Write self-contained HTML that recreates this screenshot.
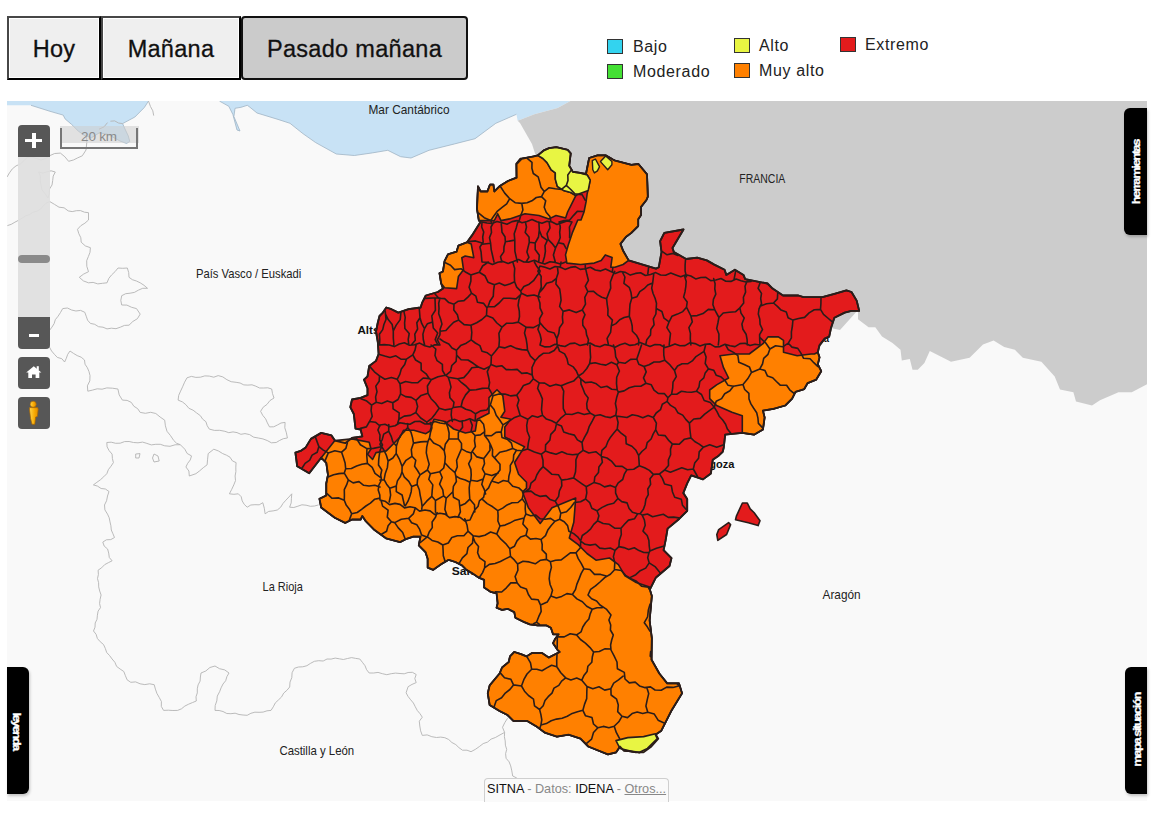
<!DOCTYPE html>
<html><head><meta charset="utf-8">
<style>
*{box-sizing:border-box}
html,body{margin:0;padding:0;background:#fff;width:1166px;height:813px;overflow:hidden;font-family:"Liberation Sans",sans-serif}
.btn{position:absolute;top:16px;height:64px;background:#efefef;border-style:solid;border-width:2px;border-color:#474747 #000 #000 #474747;box-shadow:inset 1px 1px 0 #fff,inset -1px -1px 0 #fff;font-size:23.5px;letter-spacing:0.3px;-webkit-text-stroke:0.3px #111;color:#111;display:flex;align-items:center;justify-content:center;padding-top:3px}
#b1{left:7px;width:94px}
#b2{left:101px;width:140px}
#b3{left:241px;width:227px;background:#cbcbcb;border:2px solid #111;border-radius:4px;box-shadow:none}
.lg{position:absolute;font-size:16px;color:#222;white-space:nowrap;letter-spacing:0.65px;margin-top:1px}
.sw{position:absolute;width:16px;height:15px;border:1px solid #333}
#map{position:absolute;left:7px;top:101px;width:1140px;height:700px;overflow:hidden;background:#f9f9f9}
#map svg{position:absolute;left:-7px;top:-101px}
.ctl{position:absolute;left:18px;width:32px;background:#575757;color:#fff;text-align:center}
.tab{position:absolute;background:#000;color:#fff;font-weight:bold;box-shadow:1px 2px 3px rgba(0,0,0,0.22)}
.tabt{position:absolute;font-size:13px;line-height:13px;font-weight:bold;color:#fff;white-space:nowrap;letter-spacing:-1px;transform-origin:50% 50%;-webkit-text-stroke:0.35px #fff}
#attr{position:absolute;left:484px;top:778px;width:185px;height:24px;background:#fafafa;border:1px solid #cfcfcf;border-bottom:none;border-radius:4px 4px 0 0;font-family:"Liberation Sans",sans-serif;font-size:12.7px;padding:3px 0 0 2px;white-space:nowrap;color:#111}
#attr .g{color:#888}
#attr u{color:#888}
</style></head><body>
<div class="btn" id="b1">Hoy</div>
<div class="btn" id="b2">Mañana</div>
<div class="btn" id="b3">Pasado mañana</div>

<div class="sw" style="left:607px;top:39px;background:#33d3ef"></div><div class="lg" style="left:633px;top:37px">Bajo</div>
<div class="sw" style="left:607px;top:64px;background:#44e034"></div><div class="lg" style="left:633px;top:62px">Moderado</div>
<div class="sw" style="left:734px;top:38px;background:#e8f542"></div><div class="lg" style="left:759px;top:36px">Alto</div>
<div class="sw" style="left:734px;top:63px;background:#ff8000"></div><div class="lg" style="left:759px;top:61px">Muy alto</div>
<div class="sw" style="left:840px;top:37px;background:#e31b1c"></div><div class="lg" style="left:865px;top:35px">Extremo</div>

<div id="map">
<svg width="1166" height="813" viewBox="0 0 1166 813">
<rect x="0" y="0" width="1166" height="813" fill="#f9f9f9"/>
<polygon points="7.0,101.0 570.4,101.0 557.6,107.9 534.4,114.3 517.7,120.7 516.4,114.3 495.8,123.3 475.0,138.7 454.6,143.9 429.0,150.3 411.0,158.0 400.6,156.7 387.8,150.3 372.3,152.9 354.3,155.5 336.3,154.0 315.7,142.6 302.9,133.6 290.0,123.3 278.0,119.4 257.0,113.0 250.0,107.3 247.3,105.3 241.0,107.3 235.0,108.3 233.9,116.6 240.0,131.0 237.0,130.0 232.9,114.5 228.8,106.3 219.5,101.1 148.5,101.1 144.3,107.5 134.9,117.0 122.6,123.6 125.0,129.0 128.3,136.0 129.8,141.5 126.5,143.5 120.0,141.0 107.0,134.0 99.0,133.0 91.5,137.7 84.9,135.8 78.3,131.1 71.7,124.5 65.1,118.9 63.2,115.1 50.0,111.3 31.0,105.3 7.0,105.3" fill="#c8e2f5" stroke="none" stroke-width="0" stroke-linejoin="round" />
<polyline points="516.4,114.3 495.8,123.3 475.0,138.7 454.6,143.9 429.0,150.3 411.0,158.0 400.6,156.7 387.8,150.3 372.3,152.9 354.3,155.5 336.3,154.0 315.7,142.6 302.9,133.6 290.0,123.3 278.0,119.4 257.0,113.0 250.0,107.3 247.3,105.3 241.0,107.3 235.0,108.3 233.9,116.6 240.0,131.0 237.0,130.0 232.9,114.5 228.8,106.3 219.5,101.1" fill="none" stroke="#9fb4c4" stroke-width="0.8" stroke-linejoin="round" />
<polyline points="148.5,101.1 144.3,107.5 134.9,117.0 122.6,123.6 125.0,129.0 128.3,136.0 129.8,141.5 126.5,143.5 120.0,141.0 107.0,134.0 99.0,133.0 91.5,137.7 84.9,135.8 78.3,131.1 71.7,124.5 65.1,118.9 63.2,115.1 50.0,111.3 31.0,105.3" fill="none" stroke="#9fb4c4" stroke-width="0.8" stroke-linejoin="round" />
<polygon points="570.4,101.0 1147.0,101.0 1147.0,384.3 1131.8,392.3 1118.5,392.3 1100.0,400.3 1092.0,405.6 1076.0,401.6 1073.4,392.3 1060.0,389.6 1054.7,376.4 1041.4,361.7 1022.8,357.7 1014.9,349.8 1004.2,347.1 993.6,340.5 983.0,344.4 969.6,357.7 951.0,361.7 929.8,351.1 924.4,363.0 917.8,369.7 912.5,369.7 909.8,359.0 901.8,360.4 900.5,349.8 892.5,343.1 882.0,336.5 875.3,327.2 868.6,327.2 858.0,319.2 858.0,309.9 840.0,330.0 700.0,300.0 620.0,290.0 575.0,230.0 545.0,175.0 535.7,155.5 532.0,144.0 520.0,123.0 517.7,120.7 534.4,114.3 557.6,107.9" fill="#cccccc" stroke="none" stroke-width="0" stroke-linejoin="round" />
<polyline points="86.5,137.0 86.8,142.5 86.0,150.0 82.3,155.8 77.8,157.8 73.4,160.0 68.6,161.3 64.9,156.8 60.4,153.1 54.7,153.5 49.4,155.8 45.6,158.6 41.0,160.0 36.6,158.6 32.1,157.1 27.4,157.2 24.0,160.6 20.5,163.9 16.0,165.9 12.3,168.9 9.5,172.8 7.0,177.0" fill="none" stroke="#b3b3b3" stroke-width="0.9" stroke-linejoin="round" />
<polyline points="148.5,101.1 150.5,106.6 152.8,110.8 153.7,115.6" fill="none" stroke="#b3b3b3" stroke-width="0.9" stroke-linejoin="round" />
<polyline points="38.7,172.0 42.9,173.1 47.0,171.8 51.1,170.8 55.3,172.0 53.2,176.1 52.7,180.6 52.0,185.0 49.5,189.0 49.3,193.6 48.0,198.0 45.2,193.8 42.0,190.0 41.1,185.5 40.3,181.0 40.4,176.3 38.7,172.0" fill="none" stroke="#b3b3b3" stroke-width="0.9" stroke-linejoin="round" />
<polyline points="7.4,225.6 11.3,224.3 14.9,222.2 18.5,220.3 22.1,218.2 25.6,215.9 29.5,214.6 32.8,212.3 36.9,211.2 40.4,209.2 43.1,206.1 46.0,203.2 49.8,201.6 54.4,204.3 59.0,207.2 64.1,207.8 68.2,210.9 72.2,211.6 76.4,210.7 80.5,210.6 84.5,212.2 88.5,212.7 88.5,220.0 84.9,223.2 80.8,225.7 77.5,229.3 78.8,233.6 80.8,237.7 81.2,242.2 85.3,245.9 90.4,247.7 90.0,252.3 88.4,256.5 86.7,260.7 86.8,266.3 88.5,271.7 83.6,274.1 79.3,277.3 83.4,280.9 88.5,282.8 93.1,282.4 97.8,283.9 102.4,283.3 107.0,282.8 108.8,278.4 111.7,274.8 115.1,271.6 118.0,268.0 122.7,268.3 127.3,268.0 128.7,272.5 129.0,277.3 132.4,279.7 136.4,281.0 140.2,282.8 144.0,285.3 147.5,288.3 142.7,288.3 138.3,290.2 134.4,292.4 130.1,293.2 125.7,293.7 121.7,295.7 120.8,300.4 121.7,305.0 126.9,305.1 131.6,307.3 136.5,308.6 140.2,314.1 137.4,318.7 132.8,321.5 129.0,325.2 124.5,325.4 120.3,327.2 116.0,328.7 111.4,328.2 107.0,328.9 103.0,327.2 98.5,326.7 94.7,324.3 90.4,323.4 87.6,320.2 86.2,316.2 84.8,312.3 80.6,310.4 75.9,311.0 71.6,310.0 67.4,308.0 62.7,308.6 60.5,312.5 58.1,316.2 55.3,319.7 54.1,323.7 51.9,327.2 49.4,330.5 48.0,334.4 46.0,341.8 49.0,346.3 51.6,351.0 54.4,354.3 57.3,357.4 61.8,358.7 64.6,362.0 66.3,358.3 67.7,354.4 70.0,351.0 73.5,353.4 77.2,355.6 81.2,357.2 84.5,360.0 85.0,364.2 87.4,367.8 89.0,371.6 90.0,375.6 89.8,380.9 87.4,385.8 87.8,391.2 92.5,390.1 97.2,388.8 102.1,389.2 106.8,387.9 112.4,388.2 117.9,389.0 119.2,394.9 122.4,400.1 127.1,400.4 131.3,402.4 133.8,406.2 137.7,408.7 140.2,412.4 145.4,413.3 150.7,412.3 155.8,413.5 160.1,417.0 164.7,420.2 165.4,425.8 167.0,431.3 170.5,435.6 173.6,440.3 176.5,443.2 180.3,444.7 184.8,449.2 187.2,453.5 191.5,455.9 190.3,459.9 187.7,463.3 185.9,467.0 188.9,471.0 189.3,476.0 195.9,473.7 199.7,470.8 203.3,467.7 207.1,464.8 207.6,459.2 208.2,453.6 213.8,449.2 218.5,451.0 222.7,453.6 226.5,455.2 230.0,457.2 232.4,460.9 236.1,462.6 235.8,467.1 235.9,471.6 235.1,476.0 235.5,480.6 233.8,484.9 231.7,489.4 229.4,493.8 233.9,494.3 238.3,493.8 241.2,496.7 242.2,500.9 244.2,504.3 247.2,507.2 250.8,505.0 254.9,504.7 259.2,504.8 262.8,502.7 264.3,508.2 265.1,513.8 268.7,511.4 273.1,510.9 277.3,510.0 280.7,507.2 283.0,503.4 285.9,500.2 288.9,497.0 291.8,493.8 291.4,498.3 291.2,502.9 289.6,507.2 293.8,507.5 297.9,506.2 301.9,504.8 306.1,505.2 310.4,506.3 314.5,506.0 318.6,504.9" fill="none" stroke="#b3b3b3" stroke-width="0.9" stroke-linejoin="round" />
<polyline points="99.0,129.2 104.0,126.9 107.5,122.6" fill="none" stroke="#b3b3b3" stroke-width="0.9" stroke-linejoin="round" />
<polyline points="110.4,121.2 114.7,120.9 118.5,123.0 122.6,123.6" fill="none" stroke="#b3b3b3" stroke-width="0.9" stroke-linejoin="round" />
<polyline points="187.0,377.8 191.4,376.4 195.9,377.4 200.4,377.2 204.8,375.9 209.3,376.1 213.8,377.2 218.2,375.6 222.8,376.9 226.9,379.7 231.2,381.7 236.1,382.3 240.1,383.0 243.8,384.9 247.9,385.1 252.0,384.8 255.8,386.2 259.6,388.0 263.7,388.0 267.8,387.8 271.7,389.0 272.5,393.6 274.0,398.0 269.9,400.6 267.0,404.4 263.2,407.2 260.6,411.3 262.7,415.3 265.6,418.8 267.4,422.9 269.5,426.9 273.7,426.8 277.4,425.0 281.0,423.0 285.1,422.4 284.8,427.8 286.4,432.8 287.4,438.0 283.3,438.7 279.7,440.4 276.2,442.5 271.4,442.8 267.2,440.5 262.9,438.9 258.4,438.0 253.7,437.2 249.6,434.6 245.0,433.6 240.9,434.3 237.0,432.6 233.0,431.9 228.8,432.7 224.9,431.3 219.7,430.3 214.4,430.4 209.3,429.1 207.2,425.7 205.9,421.7 202.6,419.1 200.4,415.7 196.7,413.0 193.1,410.2 188.9,408.3 185.9,404.7 182.4,401.9 178.1,400.1 178.7,395.4 180.6,391.1 182.6,386.8 184.6,382.2 187.0,377.8" fill="none" stroke="#b3b3b3" stroke-width="0.9" stroke-linejoin="round" />
<polyline points="180.3,444.7 175.1,444.8 170.0,446.3 164.7,445.8 160.3,444.3 155.8,444.3 151.3,444.9 146.9,443.4 142.6,442.1 138.0,442.8 133.5,442.5 129.1,441.5 124.6,441.6 120.2,443.2 115.7,443.3 111.2,442.2 106.8,442.5 107.1,446.9 109.1,450.6 112.1,454.1 112.4,458.5 113.4,462.6 111.0,466.2 108.4,469.6 106.8,473.7 103.7,476.8 100.5,479.7 96.9,482.3 93.4,484.9 97.5,486.1 101.1,488.5 105.4,489.0 109.0,491.5 107.5,496.0 106.6,500.7 104.5,505.0 104.9,509.9 107.5,514.1 109.2,517.8 110.0,521.9 110.9,525.8 111.3,530.0 112.9,533.7 114.5,537.5 110.8,539.6 106.4,539.8 102.8,542.1 104.2,546.1 107.6,549.0 108.7,553.1 109.3,557.5 112.1,560.8 108.3,562.7 104.6,564.7 101.6,567.8 98.1,570.2 98.4,574.4 97.5,578.6 98.6,582.7 98.7,586.9 99.7,591.0 101.1,595.0 100.1,599.3 99.6,603.5 100.5,607.6 98.1,611.1 97.4,615.2 97.0,619.3 95.2,623.0 95.0,627.2 93.5,631.0 96.1,634.3 97.4,638.5 100.2,641.7 103.5,644.5 105.3,648.4 106.7,652.5 109.6,655.6 112.1,659.0 114.9,662.3 116.6,666.4 120.1,669.0 123.8,671.5 125.4,675.7 127.1,679.8 130.8,682.3 135.6,681.9 140.1,683.8 144.8,684.6 149.6,683.8 154.2,684.7 155.4,689.1 156.9,693.4 159.2,697.4 161.4,701.5 161.3,706.4 163.6,710.4 168.3,710.2 172.9,710.5 177.6,710.4 181.5,708.8 184.8,706.1 188.6,704.2 192.4,702.6 196.3,701.0 196.0,696.8 197.3,692.9 197.3,688.8 198.1,684.9 200.1,681.1 200.4,677.0 201.0,673.0 205.8,671.0 209.9,667.5 215.0,666.0 219.5,668.7 224.7,669.9 229.0,673.0 226.9,676.6 225.7,680.7 223.0,684.0 221.1,687.8 219.6,691.7 217.3,696.1 216.8,700.9 215.2,705.5 215.0,710.4 219.1,710.5 223.0,711.5 226.8,713.5 230.9,713.7 235.1,713.2 239.0,714.5 243.0,715.0 247.2,715.3 250.9,713.3 254.9,712.2 259.0,712.3 263.1,712.1 267.0,710.8 271.0,710.4 273.3,706.8 275.3,702.9 278.5,699.9 281.6,696.9 283.7,693.1 286.9,690.3 289.7,687.0 290.0,682.1 291.8,677.6 292.1,672.7 294.4,668.3 298.4,667.0 302.8,666.8 306.9,665.7 310.6,663.3 314.4,661.3 318.7,660.7 323.2,661.0 327.0,659.0 331.1,659.1 335.2,658.1 339.3,658.8 343.4,659.5 347.5,658.5 351.6,657.6 355.7,658.4 359.8,659.0 362.4,662.3 365.0,665.7 366.6,669.7 369.2,673.0 373.6,673.0 378.0,672.4 382.4,673.7 386.8,674.7 391.2,673.7 395.6,673.1 400.0,673.5 404.2,673.8 408.1,672.5 412.4,672.3 416.2,674.5 414.8,678.5 416.2,682.6 412.0,684.4 408.1,686.7 406.1,692.8 408.1,696.5 410.7,699.8 413.4,703.0 415.3,706.8 417.3,710.5 420.0,713.7 422.3,717.2 419.3,721.2 419.8,726.0 420.6,730.8 422.3,735.4 427.2,734.9 431.8,736.7 436.5,737.5 440.7,737.1 444.8,737.7 448.7,739.5 451.9,742.5 455.8,744.6 458.9,747.6 462.5,750.2 467.0,750.2 471.0,751.7 475.3,749.4 479.3,746.6 483.2,743.6 487.5,742.1 491.1,739.1 495.4,737.5 500.0,734.9 504.6,732.4 502.5,727.3 504.8,722.6 507.6,718.2" fill="none" stroke="#b3b3b3" stroke-width="0.9" stroke-linejoin="round" />
<polyline points="504.6,732.4 504.4,736.7 505.2,740.9 505.4,745.2 506.7,749.4 505.6,753.7 506.1,758.3 509.1,761.8 510.7,765.9 511.8,770.9 512.7,776.0 516.8,778.0" fill="none" stroke="#b3b3b3" stroke-width="0.9" stroke-linejoin="round" />
<polyline points="135.7,454.0 140.0,453.6 139.0,458.0 135.7,458.0 135.7,454.0" fill="none" stroke="#b3b3b3" stroke-width="0.9" stroke-linejoin="round" />
<polyline points="154.0,454.0 158.0,456.0 159.2,461.0 154.0,462.0 152.5,458.0 154.0,454.0" fill="none" stroke="#b3b3b3" stroke-width="0.9" stroke-linejoin="round" />
<text x="368.5" y="114" font-size="12.2" font-weight="normal" fill="#222" text-anchor="start" textLength="81" lengthAdjust="spacingAndGlyphs" font-family="Liberation Sans, sans-serif">Mar Cantábrico</text>
<text x="739.3" y="182.7" font-size="12" font-weight="normal" fill="#222" text-anchor="start" textLength="46" lengthAdjust="spacingAndGlyphs" font-family="Liberation Sans, sans-serif">FRANCIA</text>
<text x="196" y="278" font-size="12.2" font-weight="normal" fill="#222" text-anchor="start" textLength="105.3" lengthAdjust="spacingAndGlyphs" font-family="Liberation Sans, sans-serif">País Vasco / Euskadi</text>
<text x="357.4" y="334" font-size="11.5" font-weight="bold" fill="#111" text-anchor="start" textLength="42" lengthAdjust="spacingAndGlyphs" font-family="Liberation Sans, sans-serif">Altsasu</text>
<text x="262.6" y="591.3" font-size="12.2" font-weight="normal" fill="#222" text-anchor="start" textLength="40.2" lengthAdjust="spacingAndGlyphs" font-family="Liberation Sans, sans-serif">La Rioja</text>
<text x="279.4" y="754.8" font-size="12.2" font-weight="normal" fill="#222" text-anchor="start" textLength="74.8" lengthAdjust="spacingAndGlyphs" font-family="Liberation Sans, sans-serif">Castilla y León</text>
<text x="822.5" y="599" font-size="12.2" font-weight="normal" fill="#222" text-anchor="start" textLength="38.1" lengthAdjust="spacingAndGlyphs" font-family="Liberation Sans, sans-serif">Aragón</text>
<text x="686" y="467.5" font-size="11.5" font-weight="bold" fill="#111" text-anchor="start" textLength="48.5" lengthAdjust="spacingAndGlyphs" font-family="Liberation Sans, sans-serif">Zaragoza</text>
<text x="451.8" y="574.8" font-size="11.5" font-weight="bold" fill="#111" text-anchor="start" textLength="22" lengthAdjust="spacingAndGlyphs" font-family="Liberation Sans, sans-serif">San</text>
<text x="808" y="342.3" font-size="11.5" font-weight="bold" fill="#111" text-anchor="start" textLength="21" lengthAdjust="spacingAndGlyphs" font-family="Liberation Sans, sans-serif">Jaca</text>
<polygon points="478.0,186.3 480.6,191.5 487.4,191.5 490.0,184.6 493.4,184.6 494.3,191.5 499.5,186.3 508.0,181.0 516.6,177.7 516.6,164.0 521.7,158.9 533.8,156.3 537.8,155.4 544.0,150.3 549.1,148.2 556.3,147.2 567.6,149.8 570.7,153.4 569.2,165.7 572.8,171.9 580.0,172.9 586.0,174.0 589.2,158.0 597.4,155.4 605.7,155.4 612.9,159.5 615.0,160.6 631.5,164.9 638.4,164.0 647.0,174.3 647.8,196.6 646.4,200.0 641.0,206.9 641.0,215.1 638.2,219.2 638.2,226.0 631.3,232.9 625.8,237.0 620.4,243.9 623.1,250.8 628.6,260.4 656.0,268.6 658.8,267.2 661.5,252.1 660.1,241.2 664.3,232.9 683.5,229.5 672.5,248.0 673.9,252.1 686.2,259.0 697.2,257.6 706.8,260.4 714.3,264.6 724.6,269.7 726.3,274.9 734.9,269.7 743.5,274.9 745.2,279.2 767.5,283.5 772.6,288.6 783.0,295.5 798.4,295.5 803.5,297.2 822.4,297.2 834.4,293.8 846.4,290.3 851.5,292.0 856.7,300.6 859.2,310.9 851.5,310.9 844.7,312.6 834.4,317.8 831.0,328.0 829.2,336.6 824.7,338.6 819.5,345.4 817.8,352.3 819.5,357.4 817.8,364.3 821.2,371.2 816.1,379.7 807.5,383.2 804.1,389.2 795.5,391.8 792.1,398.6 785.2,405.5 773.2,408.9 762.9,410.6 764.6,417.5 762.9,429.5 754.3,434.6 742.3,432.9 725.2,434.6 724.6,440.0 723.7,447.9 722.7,451.8 718.7,455.7 712.8,459.7 710.9,473.5 703.0,479.4 691.2,475.4 687.2,483.3 683.3,493.1 687.2,499.0 687.2,510.9 679.4,518.7 667.6,528.6 665.6,540.4 663.6,550.2 671.5,558.1 669.5,566.0 655.7,577.8 649.8,589.6 651.8,595.9 649.6,620.4 651.8,638.2 651.5,659.7 659.3,673.5 667.2,683.4 679.0,683.4 682.0,693.3 671.2,711.0 661.3,730.7 655.4,734.7 657.4,738.6 647.5,748.5 639.6,752.4 623.8,750.5 620.0,746.5 616.0,752.4 608.0,754.4 588.3,746.5 580.5,738.6 568.6,734.7 556.8,736.6 545.0,732.7 537.0,726.8 527.2,720.9 513.4,720.9 507.5,715.0 499.6,711.0 489.7,705.0 487.8,693.3 489.7,685.4 499.6,673.5 502.1,667.5 508.8,662.0 510.0,656.4 514.3,652.0 521.0,654.2 526.5,656.4 532.0,653.1 542.0,653.1 548.7,657.6 559.7,652.0 557.5,649.8 553.1,643.2 555.3,638.7 558.6,634.3 553.1,634.3 550.9,627.7 546.4,625.4 537.6,625.4 529.8,624.3 524.3,622.1 515.4,617.7 514.3,612.1 507.7,608.8 502.1,609.9 496.6,607.7 497.7,603.3 496.6,593.3 490.8,591.9 484.2,587.5 484.2,579.8 478.6,577.6 472.0,573.1 466.4,569.8 462.0,565.4 455.4,562.0 448.7,559.8 441.0,564.3 433.2,569.8 427.7,567.6 427.7,558.7 425.5,552.1 418.8,545.4 420.5,536.6 413.3,536.6 406.6,538.8 400.0,542.1 386.3,538.4 374.3,529.8 365.8,521.2 362.3,516.0 360.6,519.5 352.0,519.5 345.2,522.9 334.9,517.8 321.2,507.5 319.5,498.9 326.3,495.5 326.3,483.5 328.0,474.9 326.3,462.9 321.2,457.7 309.2,473.2 297.2,466.3 295.4,452.6 300.6,450.9 305.7,447.4 310.9,438.9 321.2,432.9 331.5,435.4 334.9,440.6 345.2,443.2 352.0,438.0 362.3,436.3 360.6,429.5 355.5,428.6 353.8,414.0 350.3,407.2 352.0,399.5 360.6,397.8 367.5,395.2 367.5,388.3 364.0,379.7 367.5,376.3 369.2,366.0 376.0,360.9 378.6,354.0 377.8,342.0 376.0,331.5 377.7,323.0 379.5,316.0 382.9,312.6 386.3,307.5 391.5,309.2 398.3,312.6 408.6,309.2 420.6,307.5 422.3,302.3 425.8,295.5 437.8,292.0 443.0,288.6 441.2,283.5 439.5,273.2 443.0,271.5 444.6,261.2 448.0,254.3 456.6,251.7 458.4,245.7 467.0,242.3 472.0,235.4 480.6,221.7 478.9,220.6 477.0,208.6" fill="#e31b1c" stroke="#2a1d1a" stroke-width="1.8" stroke-linejoin="round" />
<polygon points="742.4,503.0 747.3,503.0 750.2,508.9 754.2,512.8 760.0,520.7 758.1,525.6 748.3,522.7 735.5,519.7 736.5,515.8" fill="#e31b1c" stroke="#2a1d1a" stroke-width="1.6" stroke-linejoin="round" />
<polygon points="728.6,522.7 730.6,524.6 726.6,534.5 717.8,540.4 716.8,534.5 718.7,529.6" fill="#e31b1c" stroke="#2a1d1a" stroke-width="1.6" stroke-linejoin="round" />
<polygon points="321.2,457.7 334.9,440.6 352.0,438.9 369.2,442.3 371.0,449.0 367.5,454.3 372.6,459.5 376.0,452.6 386.3,450.9 393.2,444.0 400.0,437.1 403.5,430.3 413.8,430.3 425.8,433.7 430.0,431.0 434.0,419.2 443.8,421.2 453.6,429.0 465.4,433.0 475.3,431.0 477.2,419.2 489.0,413.3 489.0,397.6 497.0,389.7 502.8,395.6 504.8,411.3 500.9,417.2 510.7,419.2 504.8,427.0 504.8,436.9 512.7,440.9 524.5,446.8 514.6,462.5 518.6,474.3 526.5,482.2 526.5,488.1 522.5,492.0 528.4,507.8 540.2,523.5 552.0,507.8 575.7,498.0 573.8,522.3 569.3,538.0 578.2,544.6 587.0,553.5 596.0,560.2 609.5,558.0 618.4,564.7 625.0,575.8 636.2,582.5 649.6,587.0 649.8,589.6 651.8,595.9 649.6,620.4 651.8,638.2 651.5,659.7 659.3,673.5 667.2,683.4 679.0,683.4 682.0,693.3 671.2,711.0 661.3,730.7 655.4,734.7 657.4,738.6 647.5,748.5 639.6,752.4 623.8,750.5 620.0,746.5 616.0,752.4 608.0,754.4 588.3,746.5 580.5,738.6 568.6,734.7 556.8,736.6 545.0,732.7 537.0,726.8 527.2,720.9 513.4,720.9 507.5,715.0 499.6,711.0 489.7,705.0 487.8,693.3 489.7,685.4 499.6,673.5 502.1,667.5 508.8,662.0 510.0,656.4 514.3,652.0 521.0,654.2 526.5,656.4 532.0,653.1 542.0,653.1 548.7,657.6 559.7,652.0 557.5,649.8 553.1,643.2 555.3,638.7 558.6,634.3 553.1,634.3 550.9,627.7 546.4,625.4 537.6,625.4 529.8,624.3 524.3,622.1 515.4,617.7 514.3,612.1 507.7,608.8 502.1,609.9 496.6,607.7 497.7,603.3 496.6,593.3 490.8,591.9 484.2,587.5 484.2,579.8 478.6,577.6 472.0,573.1 466.4,569.8 462.0,565.4 455.4,562.0 448.7,559.8 441.0,564.3 433.2,569.8 427.7,567.6 427.7,558.7 425.5,552.1 418.8,545.4 420.5,536.6 413.3,536.6 406.6,538.8 400.0,542.1 386.3,538.4 374.3,529.8 365.8,521.2 362.3,516.0 360.6,519.5 352.0,519.5 345.2,522.9 334.9,517.8 321.2,507.5 319.5,498.9 326.3,495.5 326.3,483.5 328.0,474.9 326.3,462.9" fill="#ff8000" stroke="#2a1d1a" stroke-width="1.6" stroke-linejoin="round" />
<polygon points="478.0,186.3 480.6,191.5 487.4,191.5 490.0,184.6 493.4,184.6 494.3,191.5 499.5,186.3 508.0,181.0 516.6,177.7 516.2,163.7 520.3,158.5 533.7,156.5 537.8,155.4 542.9,158.5 547.0,162.6 551.2,169.8 555.3,172.9 555.3,179.1 557.3,186.3 563.5,190.4 570.7,192.5 575.8,195.6 570.7,205.8 567.6,212.0 565.6,218.0 563.0,217.2 556.0,215.5 549.0,218.9 539.0,215.5 525.0,213.8 509.7,218.9 501.0,220.6 497.7,213.8 494.3,220.6 478.9,220.6 477.0,208.6" fill="#ff8000" stroke="#2a1d1a" stroke-width="1.6" stroke-linejoin="round" />
<polygon points="586.0,174.0 589.2,158.0 597.4,155.4 605.7,155.4 612.9,159.5 615.0,160.6 631.5,164.9 638.4,164.0 647.0,174.3 647.8,196.6 646.4,200.0 641.0,206.9 641.0,215.1 638.2,219.2 638.2,226.0 631.3,232.9 625.8,237.0 620.4,243.9 623.1,250.8 628.6,260.4 623.1,264.5 614.9,267.2 610.8,267.2 612.1,257.6 605.3,254.9 601.2,260.4 594.3,263.1 580.6,264.5 566.9,263.1 565.5,254.9 568.2,245.3 572.3,232.9 577.8,220.0 581.0,220.0 584.0,212.0 586.1,201.7 587.2,193.5 590.2,180.1 587.2,175.0" fill="#ff8000" stroke="#2a1d1a" stroke-width="1.6" stroke-linejoin="round" />
<polygon points="456.6,251.7 448.0,254.3 444.6,261.2 443.0,271.5 439.5,273.2 441.2,283.5 444.6,287.8 456.6,288.6 458.4,276.6 463.5,269.7 461.8,257.7 465.2,256.0 473.8,257.7 471.2,244.0 467.0,242.3 458.4,245.7" fill="#ff8000" stroke="#2a1d1a" stroke-width="1.6" stroke-linejoin="round" />
<polygon points="814.4,354.0 817.8,352.3 819.5,357.4 817.8,364.3 821.2,371.2 816.1,379.7 807.5,383.2 804.1,389.2 795.5,391.8 792.1,398.6 785.2,405.5 773.2,408.9 762.9,410.6 764.6,417.5 762.9,429.5 754.3,434.6 742.3,432.9 742.3,415.8 732.0,412.3 716.6,405.5 709.7,398.6 709.7,390.0 716.6,384.9 728.6,378.0 723.5,367.7 720.0,355.7 733.8,354.0 749.2,354.0 763.0,343.7 768.0,336.9 778.4,336.9 783.5,340.3 783.5,352.3 797.2,355.7 811.0,354.0" fill="#ff8000" stroke="#2a1d1a" stroke-width="1.6" stroke-linejoin="round" />
<polygon points="537.8,155.4 544.0,150.3 549.1,148.2 556.3,147.2 567.6,149.8 570.7,153.4 569.2,165.7 572.8,171.9 580.0,172.9 587.2,175.0 590.2,180.1 588.2,190.4 580.0,193.5 575.8,195.6 570.7,192.5 563.5,190.4 557.3,186.3 555.3,179.1 555.3,172.9 551.2,169.8 547.0,162.6 542.9,158.5" fill="#e8f543" stroke="#2a1d1a" stroke-width="1.6" stroke-linejoin="round" />
<polygon points="592.3,160.6 595.4,159.0 599.5,166.7 597.4,170.9 594.4,172.9 592.8,169.8" fill="#e8f543" stroke="#2a1d1a" stroke-width="1.4" stroke-linejoin="round" />
<polygon points="600.5,161.6 605.7,156.0 611.9,161.6 611.9,164.7 607.7,169.8" fill="#e8f543" stroke="#2a1d1a" stroke-width="1.4" stroke-linejoin="round" />
<polygon points="616.0,740.6 620.0,748.5 635.7,752.4 643.6,752.4 651.5,746.5 658.4,738.6 655.4,733.7 643.6,736.6 627.8,737.6" fill="#e8f543" stroke="#2a1d1a" stroke-width="1.6" stroke-linejoin="round" />
<path d="M527.5,158.7 L532.0,162.3 L531.9,168.3 L533.3,173.5 L538.2,176.9 L539.7,182.1 L541.0,187.3 L544.2,191.6 M570.9,170.6 L567.8,175.0 L568.0,180.5 L566.3,185.4 M544.2,191.6 L549.1,187.7 L555.3,188.7 L561.5,189.4 L566.3,185.4 M500.6,186.8 L504.7,193.1 L509.7,198.7 M544.2,191.6 L541.5,196.6 M541.5,196.6 L536.3,197.5 L531.9,200.8 L527.1,202.8 L521.8,203.4 M509.7,198.7 L515.1,202.7 L521.8,203.4 M566.3,185.4 L570.8,189.5 L574.9,193.9 L582.1,194.6 L585.3,200.3 M541.5,196.6 L545.7,200.8 L544.2,207.2 L546.2,212.2 L549.9,216.6 L551.0,222.0 M583.1,211.5 L577.3,211.4 L573.4,215.6 L569.7,220.1 L564.1,220.5 L559.0,222.0 M318.9,446.6 L323.3,450.1 L328.3,452.9 M318.9,446.6 L317.2,452.2 L312.1,455.1 L309.7,460.1 L305.1,463.4 L302.1,468.0 M328.3,452.9 L325.2,460.4 M494.2,706.6 L496.3,700.6 L501.6,697.7 L505.3,693.1 L509.9,689.5 L513.5,684.9 M500.7,673.4 L504.5,677.7 L510.9,679.3 L513.5,684.9 M677.9,255.5 L673.0,253.4 L667.1,254.8 L662.4,251.6 M513.5,684.9 L521.5,686.0 M521.5,686.0 L523.8,679.7 L527.0,674.0 L531.7,669.3 M531.7,669.3 L530.5,662.8 L527.2,657.1 M777.7,293.2 L777.4,298.9 L773.5,303.0 M821.0,298.2 L820.9,303.8 L820.5,309.4 M820.5,309.4 L814.3,309.8 L809.1,312.9 L804.6,317.4 L798.6,318.5 L792.9,320.1 M773.5,303.0 L777.4,306.4 L781.1,310.1 L786.3,312.0 L788.1,317.7 L792.9,320.1 M792.9,320.1 L792.4,326.0 L791.4,331.8 L791.4,337.8 L788.3,343.2 M820.5,309.4 L823.5,314.3 L827.8,318.0 L832.0,321.7 M788.3,343.2 L792.0,347.1 L797.8,348.4 L800.9,353.1 L803.6,358.3 L810.1,358.8 L813.8,362.7 L817.7,366.4 M327.3,493.9 L332.1,498.3 L338.7,497.9 L344.3,500.3 M349.5,519.6 L351.7,513.8 M344.3,500.3 L346.2,505.1 L349.4,509.2 L351.7,513.8 M664.1,722.9 L658.1,720.2 L654.3,714.1 L647.8,712.2 M647.8,712.2 L645.9,706.1 L647.2,699.9 L648.7,693.6 L646.8,687.5 M521.5,686.0 L524.5,691.2 L528.5,695.5 L533.5,699.2 L534.5,705.9 L539.6,709.5 M540.0,727.8 L540.9,725.1 M539.6,709.5 L540.9,714.6 L541.8,719.8 L540.9,725.1 M649.2,562.9 L655.4,566.9 L660.1,572.7 M649.2,562.9 L645.7,568.1 L640.2,570.7 L635.8,574.7 L630.4,577.4 M539.6,709.5 L543.2,705.8 L545.0,700.6 L548.2,696.7 L552.0,693.1 L554.0,688.1 L558.8,685.4 L561.6,681.1 L565.7,677.9 M531.7,669.3 L536.8,669.3 L542.0,670.7 L546.8,667.9 L551.6,665.2 L556.8,666.7 M556.8,666.7 L560.8,672.7 L565.7,677.9 M406.4,359.2 L404.7,364.5 L401.3,369.0 L399.8,374.4 L397.2,379.3 M406.4,359.2 L400.9,359.1 L395.9,355.8 L390.0,357.5 L384.7,356.1 L379.5,354.5 M370.1,366.9 L374.4,371.8 L379.5,375.9 M379.5,375.9 L384.9,379.3 L391.4,377.5 L397.2,379.3 M773.5,303.0 L766.5,303.7 L760.0,306.3 M735.6,271.3 L733.9,280.1 M788.3,343.2 L782.7,346.8 L775.6,345.7 L769.9,349.0 M760.0,337.7 L765.6,342.8 L769.9,349.0 M793.7,393.2 L789.7,389.8 L786.6,385.2 L780.2,385.1 L776.4,381.5 L772.7,377.7 L767.5,376.1 L765.0,370.6 L759.8,368.9 M769.9,349.0 L768.0,354.3 L763.7,358.4 L762.5,364.0 L759.8,368.9 M381.9,534.0 L386.6,531.2 L388.1,525.8 L391.4,521.8 M351.7,513.8 L357.2,512.5 L361.6,509.3 L365.9,506.0 L370.4,503.1 L374.5,499.3 L380.0,498.1 M380.0,498.1 L380.0,498.1 M381.0,500.2 L382.6,506.1 L388.1,510.1 L387.3,517.1 L391.4,521.8 M420.4,542.5 L426.9,537.1 M405.0,538.5 L402.7,532.5 L398.3,527.9 L394.7,522.6 M426.9,537.1 L421.6,534.9 L419.7,529.4 L416.9,524.8 L411.6,522.7 L408.6,518.3 M408.6,518.3 L401.3,519.2 L394.7,522.6 M391.4,521.8 L394.7,522.6 M610.9,688.7 L611.1,695.0 L616.6,699.2 L618.3,704.9 L617.7,711.6 L622.0,716.3 M610.9,688.7 L604.7,690.1 L599.0,686.8 L592.8,688.8 L587.0,686.4 M587.0,686.4 L586.8,692.5 L586.7,698.6 L584.5,704.4 L582.9,710.3 M582.9,710.3 L585.4,715.7 L592.0,717.6 L593.5,724.0 L597.9,727.8 M597.9,727.8 L603.3,726.4 L608.9,727.7 L614.2,726.3 M614.2,726.3 L618.8,721.8 L622.0,716.3 M647.8,712.2 L642.7,713.5 L637.2,712.0 L632.1,713.6 L627.5,717.6 L622.0,716.3 M623.1,676.2 L618.5,679.9 L613.7,683.2 L610.9,688.7 M610.5,649.0 L604.7,648.9 L599.3,651.5 L593.6,652.0 M593.6,652.0 L592.3,657.0 L591.8,662.3 L587.9,666.2 L587.1,671.4 L583.9,675.6 L581.8,680.2 M581.8,680.2 L587.0,686.4 M565.7,677.9 L570.9,679.9 L576.7,678.1 L581.8,680.2 M540.9,725.1 L546.3,723.6 L551.2,720.7 L556.5,719.1 L562.1,718.3 L567.3,716.3 L572.2,713.4 L577.5,711.7 L582.9,710.3 M586.6,743.3 L591.6,739.1 L593.5,732.5 L597.9,727.8 M619.6,738.7 L616.4,732.7 L614.2,726.3 M479.7,577.0 L482.6,572.6 L484.6,567.8 M484.6,567.8 L485.0,561.7 L479.7,557.9 L477.6,552.8 L478.5,546.6 L474.9,542.1 L473.1,536.9 M473.1,536.9 L472.5,543.2 L468.0,547.5 L466.9,553.6 L462.4,557.9 L459.4,562.9 M426.9,537.1 L427.4,536.9 M427.4,536.9 L432.1,540.4 L437.8,542.0 L442.8,545.0 M444.9,560.8 L443.3,555.7 L443.1,550.3 L442.8,545.0 M593.6,652.0 L589.8,647.3 L585.4,643.1 L580.5,639.5 L576.6,634.9 M556.8,666.7 L556.7,660.6 L557.0,654.5 M557.2,647.5 L557.3,637.6 M557.9,636.9 L564.2,636.9 L570.2,633.7 L576.6,634.9 M533.5,623.8 L536.5,622.2 M539.5,624.4 L536.5,622.2 M602.2,607.7 L597.1,607.7 L592.2,609.3 M576.6,634.9 L581.1,631.8 L582.8,627.0 L585.5,622.8 L588.9,619.0 L590.2,613.9 L592.2,609.3 M583.9,568.7 L589.9,569.5 L594.5,574.4 L600.7,574.4 L606.4,575.9 M583.9,568.7 L581.1,573.6 L579.1,578.9 L576.9,584.1 L575.4,589.7 L572.4,594.5 M592.2,609.3 L586.7,606.3 L582.4,601.8 L576.9,598.9 L572.4,594.5 M495.2,591.9 L501.7,592.0 L506.4,587.8 L510.8,582.9 L517.2,582.9 M484.6,567.8 L489.3,564.4 L495.1,563.5 L500.4,561.5 L505.4,558.9 L510.5,556.3 M510.5,556.3 L514.3,559.9 L517.6,564.0 M517.2,582.9 L515.1,576.6 L517.9,570.3 L517.6,564.0 M536.5,622.2 L538.7,616.7 L541.2,611.3 L540.6,605.1 M517.2,582.9 L520.6,587.1 L526.3,588.9 L528.4,594.5 L531.5,599.1 L538.2,599.8 L540.6,605.1 M572.4,594.5 L566.9,593.6 L561.7,596.4 L556.4,597.9 L550.9,595.9 M540.6,605.1 L547.2,602.1 L550.9,595.9 M445.4,375.3 L438.0,376.7 L431.2,379.8 M445.4,375.3 L442.5,370.5 L442.4,364.4 L437.1,360.7 L435.0,355.5 L435.8,349.0 L431.1,345.0 M412.8,354.9 L415.6,360.0 L421.1,363.2 L421.2,370.2 L426.1,373.8 L429.3,378.6 M412.8,354.9 L415.0,350.1 L416.1,345.0 M429.3,378.6 L431.2,379.8 M400.0,383.8 L397.2,379.3 M400.0,383.8 L405.6,381.5 L411.9,382.7 L417.9,382.7 L423.2,378.0 L429.3,378.6 M406.4,359.2 L412.8,354.9 M689.4,423.1 L690.0,430.5 L690.9,437.9 M689.4,423.1 L685.8,419.4 L682.7,415.1 L677.8,412.7 L675.2,408.1 L670.6,405.4 L667.2,401.4 M653.3,417.5 L656.2,413.0 L660.5,409.7 L662.3,404.2 L667.2,401.4 M653.3,417.5 L656.4,423.2 L655.7,429.7 M655.7,429.7 L658.4,435.0 L665.0,435.6 L668.4,440.1 L672.3,443.9 M690.9,437.9 L684.5,439.2 L679.3,444.2 L672.3,443.9 M714.3,407.3 L716.2,401.3 L721.6,398.6 L724.7,393.7 L729.9,390.7 L733.4,386.2 M714.3,407.3 L717.0,411.6 L719.2,416.2 L722.7,420.0 L725.6,424.2 L727.4,429.1 L730.6,433.1 M762.2,427.4 L758.4,423.4 L757.9,417.9 L756.7,412.7 L753.7,408.3 L750.9,403.9 L749.0,399.0 L748.9,393.4 L744.7,389.5 L743.0,384.5 M743.0,384.5 L733.4,386.2 M703.3,447.2 L699.2,444.1 L694.7,441.5 L690.9,437.9 M714.2,407.2 L714.3,407.3 M689.4,423.1 L693.8,419.0 L700.3,418.4 L704.7,414.2 L709.4,410.6 L714.2,407.2 M703.3,447.2 L709.7,444.7 L716.7,447.3 L723.0,444.9 M759.8,368.9 L751.5,372.4 M751.5,372.4 L747.7,378.8 L743.0,384.5 M751.5,372.4 L749.4,366.9 L744.2,364.5 L738.8,362.2 L737.9,355.6 L733.5,352.4 L728.4,349.8 L725.7,345.0 M685.5,259.7 L685.1,265.4 L685.1,271.1 L686.5,276.7 M473.1,536.9 L473.0,535.7 M442.8,545.0 L448.3,543.0 L451.8,537.5 L457.4,535.7 L463.9,535.7 L468.0,531.2 M473.0,535.7 L468.0,531.2 M509.8,548.7 L505.7,543.6 L500.9,539.2 L496.7,534.1 M510.5,556.3 L509.8,548.7 M473.0,535.7 L479.1,536.6 L484.9,535.2 L490.6,532.0 L496.7,534.1 M509.7,198.7 L506.7,203.8 L502.1,207.4 L497.5,211.1 L494.0,215.8 L490.7,220.6 M490.7,220.6 L484.2,217.7 L478.7,213.2 M318.9,446.6 L315.5,437.4 M454.0,304.2 L458.3,301.2 L464.0,300.6 L467.9,297.1 L471.5,293.2 M454.0,304.2 L448.8,302.6 L444.7,298.6 L438.8,298.3 L435.0,293.9 M470.9,275.0 L465.9,272.3 L461.3,268.8 L454.6,269.6 L450.5,265.2 L445.4,262.8 M470.9,275.0 L470.9,281.1 L469.1,287.2 L471.5,293.2 M482.0,243.1 L475.5,240.9 L468.8,241.6 M488.3,262.0 L482.6,266.0 L479.3,272.2 M479.3,272.2 L470.9,275.0 M490.7,220.6 L491.3,222.0 M454.0,304.2 L453.8,310.0 L457.4,314.8 L458.7,320.1 M440.0,331.2 L445.9,330.5 L449.7,326.3 L453.7,322.2 L458.7,320.1 M708.4,368.9 L705.2,372.9 L703.8,377.9 L699.8,381.5 L699.0,386.8 L696.5,391.2 M708.4,368.9 L705.2,363.5 L706.1,357.0 L704.0,351.3 M704.0,351.3 L699.8,354.2 L695.6,356.9 L692.3,360.9 L688.0,363.6 L682.1,363.7 L677.6,366.0 L674.5,370.5 M696.5,391.2 L691.6,392.3 L686.5,392.0 L681.4,391.3 L676.7,394.2 L671.6,394.0 M671.6,394.0 L672.7,388.1 L673.0,382.2 L676.3,376.6 L674.5,370.5 M733.4,386.2 L727.9,385.2 L725.0,380.5 L721.2,377.1 L716.3,375.3 L713.7,370.2 L708.4,368.9 M714.2,407.2 L710.4,402.5 L704.2,400.5 L701.5,394.5 L696.5,391.2 M705.6,345.0 L704.0,351.3 M664.7,360.2 L663.8,355.1 L663.7,350.1 L664.0,345.0 M664.7,360.2 L670.0,364.9 L674.5,370.5 M667.9,397.8 L667.2,401.4 M667.9,397.8 L671.6,394.0 M644.0,366.4 L649.1,364.7 L654.0,362.0 L659.6,362.0 L664.7,360.2 M646.0,383.3 L643.5,377.9 L646.2,371.9 L644.0,366.4 M667.9,397.8 L664.3,393.6 L658.2,393.4 L654.0,390.2 L651.3,384.8 L646.0,383.3 M379.5,375.9 L379.2,381.2 L375.8,386.1 L377.0,391.7 L375.6,396.9 L376.2,402.3 M400.0,383.8 L400.5,388.8 L400.6,393.9 M400.6,393.9 L398.0,399.5 L392.8,402.8 M392.8,402.8 L387.3,400.9 L381.7,403.5 L376.2,402.3 M361.0,398.7 L366.8,401.1 L371.6,405.1 M371.6,405.1 L376.2,402.3 M482.4,499.3 L487.2,503.6 L492.7,506.8 L497.8,510.6 M493.1,481.5 L498.2,483.1 L503.3,480.5 L508.4,481.5 M497.8,510.6 L502.7,508.1 L507.1,504.9 L512.1,502.7 L518.0,502.5 L522.2,498.8 M508.4,481.5 L512.7,486.3 L519.1,488.1 L523.7,492.4 M523.7,492.4 L522.2,498.8 M468.0,531.2 L467.0,524.9 L464.8,518.8 M496.7,534.1 L500.0,526.0 M500.0,526.0 L497.9,521.0 L498.1,515.8 L497.8,510.6 M627.0,469.7 L624.3,474.2 L622.7,479.5 L618.2,482.8 L615.6,487.4 M627.0,469.7 L622.2,466.4 L615.7,466.3 L611.8,461.4 L607.0,458.0 L601.4,456.4 M615.6,487.4 L610.4,485.4 L604.5,486.9 L599.5,483.9 L594.2,482.4 M601.4,456.4 L602.4,462.3 L598.9,466.9 L598.5,472.4 L594.8,477.0 L594.2,482.4 M612.8,268.2 L612.4,271.3 M648.6,267.4 L647.8,273.8 M644.0,366.4 L638.8,364.3 L636.8,359.0 M641.5,345.0 L639.2,352.0 L636.8,359.0 M479.3,272.2 L484.9,275.7 L488.0,282.2 L494.4,284.8 M471.5,293.2 L475.9,296.2 L477.5,302.3 L483.7,303.4 L486.9,307.7 M494.4,284.8 L493.6,290.5 L493.3,296.3 L489.9,301.2 L488.1,306.6 M486.9,307.7 L488.1,306.6 M461.1,406.5 L462.6,400.3 L465.6,394.9 L469.8,390.1 M461.1,406.5 L465.8,409.2 L471.1,410.8 L475.6,413.8 M488.6,388.0 L482.3,388.4 L476.1,389.8 L469.8,390.1 M475.6,413.8 L480.6,410.9 L486.8,410.0 L490.4,404.9 M488.6,388.0 L493.0,395.7 M493.0,395.7 L490.4,404.9 M456.6,355.1 L461.1,359.8 L468.0,360.0 L473.2,363.3 L478.3,367.0 M456.6,355.1 L456.1,361.4 L451.8,365.5 L450.6,371.4 L445.8,375.3 M478.3,367.0 L471.9,367.8 L468.0,373.0 L463.8,377.6 L457.6,378.8 M457.6,378.8 L448.2,377.2 M445.8,375.3 L448.2,377.2 M440.0,339.0 L444.1,341.8 L448.8,343.9 L452.0,348.0 L456.5,350.3 M456.5,350.3 L456.6,355.1 M445.4,375.3 L445.8,375.3 M489.7,366.4 L484.1,369.3 L478.3,367.0 M489.7,366.4 L487.3,371.7 L488.6,377.2 L489.6,382.6 L488.6,388.0 M469.8,390.1 L466.0,386.0 L461.6,382.7 L457.6,378.8 M453.2,407.5 L461.1,406.5 M453.2,407.5 L454.0,402.2 L449.9,397.7 L449.4,392.6 L451.0,387.1 L449.8,382.1 L448.2,377.2 M638.6,455.5 L639.0,460.6 L639.3,465.7 M638.6,455.5 L636.0,450.3 L631.9,446.3 L626.2,443.7 L625.8,436.7 L621.1,433.2 L617.2,429.1 M639.3,465.7 L633.7,469.2 L627.0,469.7 M601.4,456.4 L601.1,456.0 M601.1,456.0 L601.9,450.4 L605.9,446.7 L607.8,441.7 L610.5,437.2 L613.8,433.1 L617.2,429.1 M655.7,429.7 L653.1,434.1 L651.1,439.0 L647.2,442.6 L646.0,448.0 L641.9,451.5 L638.6,455.5 M653.3,417.5 L648.1,415.5 L642.8,417.7 L637.6,415.8 L632.3,414.7 L627.0,417.5 L621.7,416.7 L616.5,416.1 M617.2,429.1 L618.1,422.5 L616.5,416.1 M426.8,422.1 L431.8,418.3 L435.6,413.4 L439.2,408.3 M426.8,422.1 L420.7,418.0 L415.9,412.5 M415.9,412.5 L417.6,406.5 L416.0,400.4 M439.2,408.3 L435.6,403.2 L431.1,398.7 L428.0,393.3 M428.0,393.3 L421.1,395.4 L416.0,400.4 M398.9,419.3 L399.2,412.9 L393.1,408.9 L392.8,402.8 M398.9,419.3 L404.2,416.1 L410.5,415.4 L415.9,412.5 M400.6,393.9 L405.5,396.6 L411.3,397.4 L416.0,400.4 M431.2,379.8 L427.4,386.0 L428.0,393.3 M453.2,407.5 L451.6,408.8 M451.6,408.8 L445.4,409.9 L439.2,408.3 M380.0,498.1 L380.0,498.0 M408.6,518.3 L413.3,513.9 L415.3,507.9 M344.3,500.3 L344.4,495.1 L344.3,489.7 L346.6,484.9 L348.3,479.9 M380.0,487.0 L374.8,485.3 L369.1,486.0 L363.7,485.3 L359.0,481.6 L353.1,482.9 L348.3,479.9 M328.6,476.8 L333.6,474.7 L338.9,473.6 L344.3,473.1 M344.3,473.1 L348.3,479.9 M371.6,405.1 L371.1,410.6 L372.2,416.3 L369.5,421.5 M398.9,419.3 L397.4,424.1 M380.0,426.0 L375.4,422.2 L369.5,421.5 M426.8,422.7 L426.8,422.1 M369.5,421.5 L366.4,426.9 L360.4,428.4 M509.8,548.7 L514.5,546.2 L517.0,540.9 L520.6,537.0 L526.0,535.3 M500.0,526.0 L505.1,525.1 L509.7,523.1 L514.3,520.6 L519.2,519.3 L524.1,518.0 M524.1,518.0 L522.9,524.0 L527.5,529.3 L526.0,535.3 M522.2,498.8 L525.4,503.4 L525.2,508.8 L525.8,514.1 M524.1,518.0 L525.8,514.1 M703.3,447.2 L699.2,451.9 L698.6,458.3 L694.7,463.1 L693.3,469.0 M672.3,443.9 L670.5,449.0 L670.6,454.7 L668.4,459.8 L668.5,465.5 L664.6,470.0 M664.6,470.0 L670.4,472.2 L676.1,470.0 L681.8,467.8 L687.6,469.8 L693.3,469.0 M639.3,465.7 L644.6,467.7 L649.4,470.4 L653.4,474.4 M653.4,474.4 L659.5,473.9 M664.6,470.0 L659.5,473.9 M693.3,469.0 L697.5,476.5 M617.9,498.4 L615.6,493.1 L615.6,487.4 M617.9,498.4 L621.7,501.6 L627.1,502.9 L629.1,508.4 L632.4,512.3 L637.6,513.8 M653.4,474.4 L650.0,478.7 L650.6,484.4 L647.8,489.0 L648.3,494.6 L645.9,499.2 L645.1,504.4 L643.4,509.3 L640.1,513.7 M637.6,513.8 L640.1,513.7 M649.2,562.9 L647.7,557.7 L649.0,552.6 M614.4,569.2 L614.8,562.9 L613.4,556.6 L615.0,550.4 M615.0,550.4 L618.9,546.6 M618.9,546.6 L623.9,547.6 L628.7,549.4 L634.3,547.8 L639.0,550.6 L643.8,552.5 L649.0,552.6 M494.4,284.8 L499.3,283.1 L504.8,285.5 L509.7,284.0 L514.6,281.8 M514.6,281.8 L514.3,275.2 L514.7,268.5 L512.8,262.0 M521.8,203.4 L522.9,210.0 L520.6,215.9 L518.8,222.0 M458.7,320.1 L464.1,324.6 L471.0,325.2 M486.9,307.7 L486.5,315.4 M486.5,315.4 L481.9,319.5 L476.7,322.7 L471.0,325.2 M456.5,350.3 L460.6,345.6 L466.3,343.2 L471.2,339.8 M471.0,325.2 L471.8,332.5 L471.2,339.8 M491.0,364.5 L491.4,356.0 M491.0,364.5 L489.7,366.4 M471.2,339.8 L475.3,343.0 L479.9,345.6 L482.0,351.2 L487.4,352.8 L491.4,356.0 M475.6,413.8 L475.2,420.2 M451.6,408.8 L451.2,415.1 L452.3,421.4 M427.4,536.9 L429.2,532.0 L432.3,527.6 L432.1,521.9 L435.3,517.6 L437.1,512.7 M341.6,452.2 L343.4,457.6 L345.1,463.0 L345.7,468.8 M341.6,452.2 L345.9,448.3 L347.4,442.8 M345.7,468.8 L351.4,468.5 L356.6,466.1 L361.9,464.2 L367.4,463.4 M356.3,438.3 L360.4,444.7 L366.9,448.6 M367.4,463.4 L366.8,456.0 L366.9,448.6 M328.3,452.9 L334.8,450.7 L341.6,452.2 M344.3,473.1 L345.7,468.8 M380.0,477.1 L375.0,473.3 L372.2,467.4 L367.4,463.4 M380.0,447.0 L373.5,448.4 L366.9,448.6 M637.6,513.8 L634.6,518.7 L628.5,520.1 L624.7,524.0 L621.0,528.2 M621.0,528.2 L614.6,528.2 L609.3,524.3 L603.1,523.5 L597.5,520.8 M617.9,498.4 L613.7,503.3 L607.6,504.8 L602.1,507.4 L597.0,510.8 M597.5,520.8 L598.9,515.7 L597.0,510.8 M663.4,546.3 L656.5,548.2 L649.9,551.0 M678.7,517.9 L673.6,517.1 L668.3,517.4 L663.3,514.3 L657.9,515.5 L652.6,516.7 L647.5,514.0 L642.2,515.1 M649.9,551.0 L649.2,545.8 L648.9,540.5 L647.2,535.5 L643.0,531.1 L645.2,525.2 L644.4,520.0 L642.2,515.1 M659.5,473.9 L662.5,478.6 L664.6,484.0 L671.4,485.8 L672.5,492.0 L674.7,497.2 L681.3,499.2 L682.5,505.3 L686.2,509.5 M649.0,552.6 L649.9,551.0 M640.1,513.7 L642.2,515.1 M618.9,546.6 L619.3,540.4 L621.3,534.4 L621.0,528.2 M636.8,359.0 L630.6,359.4 L625.0,363.3 L618.6,362.3 M613.5,345.0 L615.1,350.8 L615.7,356.9 L618.6,362.3 M585.3,265.0 L585.3,269.3 M486.5,315.4 L492.8,317.9 L496.9,323.0 L502.0,327.1 M491.4,356.0 L495.2,351.4 L498.9,346.7 M498.9,346.7 L499.4,340.1 L498.9,333.3 L502.0,327.1 M502.0,327.1 L506.7,323.2 L512.7,323.3 L518.3,322.1 M488.1,306.6 L494.3,306.8 L499.1,303.0 L503.5,298.2 L509.7,298.2 L516.1,298.9 L520.7,294.5 M518.3,322.1 L519.5,316.7 L519.3,311.1 L518.1,305.4 L518.9,299.9 L520.7,294.5 M582.0,442.5 L577.4,439.9 L574.4,435.1 L568.8,433.8 L563.7,432.0 L561.5,426.0 L556.4,424.1 M583.0,450.3 L582.0,442.5 M578.2,454.1 L583.0,450.3 M578.2,454.1 L572.6,454.8 L567.2,454.0 L561.9,451.8 L556.1,454.2 L550.7,452.9 L545.4,451.1 M556.4,424.1 L555.1,429.9 L550.8,434.4 L549.8,440.3 L545.6,444.9 L545.4,451.1 M555.0,521.3 L551.2,525.5 L547.8,530.1 L545.5,535.6 L541.1,539.5 M555.0,521.3 L559.7,519.3 M559.7,519.3 L564.2,521.8 L567.6,525.6 L568.9,531.2 L573.7,533.6 L577.6,536.8 L580.6,540.9 M541.1,539.5 L542.2,544.5 L542.1,549.9 L546.3,554.1 L546.4,559.4 M576.0,552.8 L580.4,547.8 L580.7,541.1 M576.0,552.8 L570.3,552.9 L565.8,556.4 L561.2,559.9 L555.6,560.2 L550.4,561.8 M550.4,561.8 L546.4,559.4 M580.7,541.1 L580.6,540.9 M525.8,514.1 L530.6,515.7 L535.9,515.1 L540.2,518.8 L545.2,519.2 L550.6,518.4 L555.0,521.3 M526.0,535.3 L530.4,539.1 L536.0,538.5 L541.1,539.5 M517.6,564.0 L523.0,561.2 L529.1,561.9 L535.3,563.8 L540.6,560.2 L546.4,559.4 M583.9,568.7 L581.2,563.4 L578.1,558.4 L576.0,552.8 M615.0,550.4 L610.4,548.0 L604.9,548.8 L599.8,548.1 L595.6,544.3 L590.1,545.1 L585.1,544.3 L580.7,541.1 M550.9,595.9 L552.5,590.2 L550.1,584.5 L549.2,578.9 L549.8,573.2 L551.4,567.4 L550.4,561.8 M597.5,520.8 L593.7,524.4 L590.7,528.8 L586.8,532.4 L582.3,535.5 L580.6,540.9 M555.2,501.2 L558.6,496.4 L559.4,490.9 L561.8,485.9 L561.5,480.1 M555.2,501.2 L558.5,507.0 L560.8,513.2 M560.8,513.2 L566.5,511.7 L570.7,507.5 L574.4,502.5 L580.6,501.8 L585.6,499.0 M573.6,477.9 L567.6,479.2 L561.5,480.1 M573.6,477.9 L577.8,480.8 L582.0,483.8 L586.2,486.7 M586.2,486.7 L586.8,492.9 L585.6,499.0 M525.3,491.6 L531.0,491.1 L535.4,494.6 L540.3,496.4 L546.0,495.6 L550.2,499.6 L555.2,501.2 M525.3,491.6 L529.7,488.5 L531.0,483.1 L535.1,479.7 L536.9,474.7 L539.6,470.4 L543.1,466.6 M543.1,466.6 L547.5,470.3 L551.7,474.2 L558.4,474.7 L561.5,480.1 M523.7,492.4 L525.3,491.6 M559.7,519.3 L560.8,513.2 M597.0,510.8 L591.8,508.2 L589.7,502.6 L585.6,499.0 M578.2,454.1 L575.9,459.8 L575.9,466.0 L575.5,472.1 L573.6,477.9 M541.4,454.2 L545.4,451.1 M543.1,466.6 L543.0,460.3 L541.4,454.2 M601.1,456.0 L595.8,451.7 L588.8,453.0 L583.0,450.3 M594.2,482.4 L586.2,486.7 M590.0,345.0 L590.2,351.2 L590.6,357.4 L589.6,363.6 M618.6,362.3 L616.8,364.8 M616.8,364.8 L611.4,362.3 L605.9,365.1 L600.5,364.3 L595.1,362.7 L589.6,363.6 M493.0,395.7 L498.9,394.1 L504.9,394.0 L510.9,395.9 L516.8,395.1 M491.0,364.5 L496.0,366.6 L501.7,365.7 L506.2,369.6 L511.6,369.7 L517.2,369.4 L521.7,373.4 L527.2,372.9 L532.2,374.9 M516.8,395.1 L520.4,390.5 L523.5,385.4 L529.6,383.2 L533.4,378.8 M532.2,374.9 L533.4,378.8 M540.0,297.1 L534.0,295.0 L527.3,295.9 L521.4,293.3 M540.0,271.7 L536.7,276.1 L533.5,280.7 L529.2,284.2 L523.9,286.5 L520.7,291.1 M520.7,291.1 L521.4,293.3 M561.0,262.0 L560.2,267.5 M534.4,262.0 L536.9,266.6 L540.0,270.7 M514.6,281.8 L516.7,287.1 L520.7,291.1 M520.7,294.5 L521.4,293.3 M520.2,415.6 L527.8,419.3 M520.2,415.6 L514.0,417.8 L508.5,421.5 L502.9,424.9 M527.8,419.3 L526.7,425.3 L527.2,431.2 L529.6,437.2 L528.3,443.1 L527.6,449.1 M502.9,424.9 L501.2,431.9 M501.2,431.9 L502.0,437.5 L507.7,439.6 L511.4,443.1 L512.7,448.4 M527.6,449.1 L522.2,450.7 L516.5,450.2 M516.5,450.2 L512.7,448.4 M516.8,395.1 L518.9,400.0 L517.2,405.5 L518.7,410.6 L520.2,415.6 M539.2,382.8 L533.4,378.8 M542.5,415.3 L537.7,417.3 L532.1,415.8 L527.8,419.3 M542.5,415.3 L541.5,409.9 L541.9,404.4 L542.4,398.9 L540.2,393.6 L537.6,388.4 L539.2,382.8 M490.4,404.9 L494.1,409.5 L496.2,415.2 L499.7,420.0 L502.9,424.9 M542.5,415.3 L546.4,419.1 L551.6,420.8 L556.3,423.3 M556.3,423.3 L556.4,424.1 M541.4,454.2 L534.4,452.1 L527.6,449.1 M486.2,435.6 L491.6,435.7 L496.0,432.4 L501.2,431.9 M494.9,457.3 L499.8,452.3 L506.5,450.8 L512.7,448.4 M508.4,481.5 L508.9,476.1 L510.3,470.9 L510.3,465.3 L513.3,460.5 L513.7,455.0 L516.5,450.2 M556.3,423.3 L560.7,418.2 L565.8,414.0 M539.2,382.8 L544.7,383.1 L549.9,386.3 L555.7,384.4 L561.2,385.7 M565.8,414.0 L563.3,408.6 L563.2,402.8 L563.3,397.0 L563.7,391.1 L561.2,385.7 M526.0,327.1 L533.4,327.6 L540.0,324.1 M526.0,327.1 L524.5,333.0 L526.1,338.7 L527.0,344.4 L527.5,350.1 M527.5,350.1 L530.4,356.1 L535.2,360.7 M535.2,360.7 L538.9,356.5 L543.2,353.3 L549.4,353.0 L554.2,350.5 L557.6,346.0 M558.0,345.0 L557.6,346.0 M518.3,322.1 L526.0,327.1 M498.9,346.7 L504.6,347.9 L510.7,345.7 L516.1,348.4 L521.8,349.6 L527.5,350.1 M532.2,374.9 L532.0,367.5 L535.2,360.7 M561.2,385.7 L567.2,383.2 L573.6,381.1 L578.4,376.3 M578.5,376.0 L578.4,376.3 M578.5,376.0 L576.4,371.1 L573.3,366.9 L568.2,364.1 L567.0,358.6 L564.6,353.9 L559.5,351.1 L557.6,346.0 M589.6,363.6 L586.8,368.5 L583.2,372.8 L578.5,376.0 M580.8,378.9 L581.0,384.1 L583.0,388.8 L584.8,393.5 L588.2,397.9 L586.7,403.6 L587.1,408.7 L590.3,413.1 M580.8,378.9 L585.3,382.6 L591.2,382.0 L596.3,383.8 L600.9,387.5 L606.9,386.3 L611.7,389.2 L617.2,389.8 M615.8,415.3 L610.6,417.6 L605.4,416.8 L600.1,414.8 L594.9,415.8 M615.8,415.3 L616.6,409.5 L615.4,403.5 L616.6,397.8 L618.4,392.1 M594.9,415.8 L590.3,413.1 M618.4,392.1 L617.2,389.8 M565.8,414.0 L572.0,414.5 L578.0,412.6 L584.2,414.5 L590.3,413.1 M578.4,376.3 L580.8,378.9 M616.8,364.8 L619.4,371.0 L616.7,377.3 L616.5,383.5 L617.2,389.8 M616.5,416.1 L615.8,415.3 M582.0,442.5 L584.6,437.2 L587.5,432.0 L589.3,426.3 L592.2,421.1 L594.9,415.8 M646.0,383.3 L640.8,386.2 L634.8,386.3 L629.2,387.8 L624.1,390.9 L618.4,392.1 M385.2,311.0 L385.5,314.1 M379.5,345.0 L379.8,339.7 L379.4,334.3 L382.7,329.6 L383.9,324.5 L386.0,319.5 L385.5,314.1 M432.6,322.1 L427.3,323.8 L424.5,328.6 M432.6,322.1 L433.3,328.0 L437.7,333.0 L435.2,339.6 L437.9,345.0 M424.5,328.6 L422.9,334.1 L423.3,339.5 L424.6,345.0 M435.0,298.1 L435.2,304.2 L435.4,310.3 L431.8,315.9 L432.6,322.1 M424.5,328.6 L421.7,323.4 L420.0,317.8 M419.3,308.7 L420.0,317.8 M393.9,345.0 L393.3,338.0 L393.3,331.0 M408.8,345.0 L408.2,339.4 L409.2,333.6 L404.9,328.6 L404.6,323.0 L405.2,317.3 L404.0,311.8 M393.3,331.0 L396.2,325.1 L400.2,319.6 L400.9,312.8 M420.0,317.8 L416.8,322.7 L417.6,329.0 L414.8,334.1 L415.3,340.3 L411.3,345.0 M385.5,314.1 L388.2,319.6 L392.2,324.6 L393.3,331.0 M747.1,281.1 L745.0,286.2 L745.6,292.1 L743.4,297.2 L743.7,303.1 L739.9,307.8 M747.3,345.0 L747.1,339.5 L746.1,334.2 L742.9,329.3 L741.9,324.0 L744.2,318.0 L741.0,313.1 L739.9,307.8 M739.9,307.8 L735.4,311.8 L729.3,312.3 L723.2,313.0 L718.9,317.5 M718.9,317.5 L714.8,309.8 M713.7,278.6 L715.1,283.8 L714.8,289.0 L715.8,294.2 L713.4,299.4 L712.9,304.7 L714.8,309.8 M718.9,317.5 L717.9,323.0 L716.7,328.5 L718.9,334.0 L718.9,339.5 L718.3,345.0 M690.9,345.0 L690.3,339.2 L690.4,333.4 L688.9,327.6 L692.3,321.8 L690.9,316.0 M714.8,309.8 L708.3,309.4 L703.0,313.6 L697.2,315.6 L690.9,316.0 M557.5,267.3 L558.1,272.9 L556.4,278.3 M540.0,291.9 L543.5,287.9 L546.6,283.2 L552.3,281.7 L556.4,278.3 M614.7,271.4 L612.3,276.7 L610.4,282.1 L610.7,288.1 L608.6,293.4 L606.6,298.8 M585.8,269.3 L587.0,274.8 L588.4,280.3 L585.3,286.2 L587.8,291.5 M587.8,291.5 L593.3,291.2 L597.4,294.6 L601.8,297.2 L606.6,298.8 M622.3,272.0 L624.9,277.0 L623.9,283.3 L629.2,287.3 L631.0,292.6 L631.8,298.3 M631.8,298.3 L630.0,304.2 L629.6,310.3 L629.3,316.4 M629.3,316.4 L624.1,317.5 L619.7,319.8 L615.9,323.6 L611.3,325.9 M606.6,298.8 L607.2,304.3 L608.0,309.7 L607.8,315.3 L612.4,320.1 L611.3,325.9 M631.8,298.3 L637.0,296.7 L639.8,291.7 L644.1,288.7 L647.8,285.0 L652.7,282.9 M652.7,282.9 L653.7,274.3 M690.9,316.0 L686.5,307.2 M684.7,276.5 L686.2,281.5 L685.8,286.7 L685.0,291.9 L683.6,297.1 L687.2,302.0 L686.5,307.2 M645.7,345.0 L646.8,339.7 L650.5,335.1 L650.8,329.5 L654.1,324.8 L653.3,318.9 L655.9,314.0 L656.2,308.5 M669.1,321.8 L664.0,318.2 L661.9,311.5 L656.2,308.5 M669.1,321.8 L666.9,327.6 L670.5,333.4 L669.8,339.2 L669.2,345.0 M629.3,316.4 L631.1,321.1 L632.2,326.0 L632.4,331.2 L636.4,335.2 L638.8,339.7 L638.5,345.0 M652.7,282.9 L651.7,288.2 L653.0,293.3 L655.1,298.2 L656.5,303.2 L656.2,308.5 M686.5,307.2 L682.8,311.6 L677.5,314.1 L671.9,316.3 L669.1,321.8 M563.1,311.4 L562.4,317.0 L562.9,322.9 L559.5,327.8 L558.8,333.4 L556.8,338.7 M563.1,311.4 L569.4,309.9 L576.1,312.6 L582.3,309.9 M582.3,309.9 L585.0,314.6 L582.7,320.1 L582.8,325.2 L585.9,329.9 L586.6,334.9 L588.5,339.7 L587.5,345.0 M556.8,338.7 L557.1,345.0 M540.0,322.8 L543.8,327.2 L547.9,331.3 L554.2,333.0 L556.8,338.7 M556.4,278.3 L555.9,284.1 L559.7,289.1 L560.5,294.7 L561.1,300.3 L559.6,306.4 L563.1,311.4 M587.8,291.5 L584.8,297.3 L585.5,304.2 L582.3,309.9 M611.3,325.9 L610.6,332.3 L607.1,338.3 L608.5,345.0 M566.2,248.7 L563.6,243.9 L558.2,242.7 M559.6,222.0 L560.3,227.3 L559.7,232.4 L560.2,237.7 L558.2,242.7 M482.0,244.2 L490.6,243.2 M490.6,243.2 L489.5,237.6 L491.5,232.5 L491.0,227.0 L493.8,222.0 M549.1,222.0 L550.0,227.9 L547.0,233.7 L548.3,239.6 M558.2,242.7 L555.5,248.0 M548.3,239.6 L552.2,243.6 L555.5,248.0 M555.5,248.0 L553.4,255.0 L555.3,262.0 M490.6,243.2 L491.2,249.6 L492.6,255.8 L494.0,262.0 M501.1,222.0 L501.6,227.1 L502.0,232.2 L505.0,236.7 L505.4,241.8 M505.4,241.8 L504.0,246.8 L503.8,251.9 L500.5,256.6 L501.9,262.0 M547.3,240.4 L545.0,245.6 L545.4,251.3 L544.5,256.7 L542.9,262.0 M547.3,240.4 L541.8,236.5 L539.3,230.2 M538.7,262.0 L539.3,255.3 L535.2,249.5 L535.2,243.0 M539.3,230.2 L538.5,237.0 L535.2,243.0 M548.3,239.6 L547.3,240.4 M538.9,222.0 L539.3,230.2 M529.3,242.2 L529.0,237.0 L525.2,232.5 L526.5,227.0 L525.4,222.0 M529.3,242.2 L528.1,247.1 L526.9,252.0 L528.9,257.4 L526.1,262.0 M517.4,262.0 L516.1,256.6 L514.9,251.2 L514.8,245.7 L514.8,240.1 M517.8,222.0 L516.2,227.9 L514.2,233.8 L514.8,240.1 M535.2,243.0 L529.3,242.2 M505.4,241.8 L514.8,240.1 M484.7,431.7 L480.4,434.9 L475.1,435.5 M470.4,420.5 L472.3,425.4 L471.1,431.2 L475.1,435.5 M445.7,421.7 L447.8,427.3 L449.1,433.0 L448.9,439.0 M430.3,422.5 L431.9,427.7 L430.4,432.8 L429.5,437.9 M429.5,437.9 L433.6,443.0 L439.7,445.9 L444.2,450.6 M448.9,439.0 L445.3,444.3 L444.2,450.6 M458.3,439.0 L458.3,432.7 L462.6,427.3 L462.1,420.9 M458.3,439.0 L448.9,439.0 M428.0,441.4 L420.7,441.9 L413.5,443.1 M407.7,427.4 L411.0,432.2 L412.5,437.6 L413.5,443.1 M407.7,423.6 L407.7,427.4 M428.0,441.4 L429.5,437.9 M444.8,462.7 L449.6,468.0 L455.0,472.6 M444.8,462.7 L445.3,456.6 L444.2,450.6 M461.5,448.9 L459.0,454.6 L456.6,460.3 L457.3,466.9 L455.0,472.6 M458.3,439.0 L461.5,443.4 L461.5,448.9 M475.1,435.5 L474.5,440.9 L475.4,446.5 L472.2,451.4 M461.5,448.9 L466.2,451.4 L471.2,452.9 M472.2,451.4 L471.2,452.9 M489.9,444.7 L490.0,450.3 L486.9,454.4 L483.8,458.6 M472.2,451.4 L476.9,456.9 L483.8,458.6 M498.2,473.0 L491.8,475.6 L485.1,473.8 M483.8,458.6 L484.5,463.7 L482.4,468.9 L485.1,473.8 M428.0,441.4 L426.7,447.1 L426.3,452.8 L427.6,458.6 L429.2,464.3 L427.4,470.0 M413.5,443.1 L411.3,449.6 L412.0,456.3 M412.0,456.3 L415.8,460.2 L414.6,466.2 L417.5,470.5 L420.1,474.9 M427.4,470.0 L420.1,474.9 M421.7,509.3 L422.1,506.5 M411.7,486.6 L411.2,491.7 L409.8,496.5 L408.0,501.2 L405.4,505.7 M411.7,486.6 L417.1,484.4 M422.1,506.5 L421.4,500.9 L420.2,495.3 L419.3,489.7 L417.1,484.4 M446.2,498.2 L445.5,503.8 L444.9,509.4 L446.9,514.9 M446.2,498.2 L452.9,491.7 M452.9,491.7 L453.4,497.2 L459.1,500.4 L459.7,505.9 M457.9,517.3 L460.4,511.8 L459.7,505.9 M470.8,480.3 L477.2,481.3 L483.2,479.1 M470.8,480.3 L469.9,482.3 M469.9,482.3 L469.2,487.9 L469.4,493.5 L469.8,499.2 M469.8,499.2 L474.5,504.7 L474.8,512.0 M485.6,493.9 L484.1,489.1 L481.8,484.4 L483.2,479.1 M471.2,452.9 L471.4,458.4 L468.6,463.8 L470.9,469.4 L471.2,474.9 L470.8,480.3 M485.1,473.8 L483.2,479.1 M455.0,472.6 L455.8,476.0 M455.8,476.0 L460.3,478.6 L465.3,480.0 L469.9,482.3 M455.8,476.0 L456.4,481.5 L453.4,486.3 L452.9,491.7 M459.7,505.9 L465.4,503.4 L469.8,499.2 M388.8,424.6 L388.7,431.2 M407.7,427.4 L404.2,431.7 L400.3,435.7 L398.1,440.7 L396.4,446.1 M396.4,446.1 L392.8,441.7 L391.2,436.3 L388.7,431.2 M388.7,431.2 L383.7,434.1 L382.3,439.3 L380.0,444.0 M396.3,485.9 L397.4,480.9 L400.4,476.5 L402.0,471.7 M396.3,485.9 L389.8,488.3 M384.1,479.7 L385.3,473.4 L387.4,467.4 L388.1,461.0 M384.1,479.7 L386.6,484.2 L389.8,488.3 M388.1,461.0 L392.9,458.0 L396.2,453.4 M396.2,453.4 L399.6,459.7 L402.1,466.5 M402.1,466.5 L402.0,471.7 M411.7,486.6 L408.8,481.4 L404.4,477.2 L402.0,471.7 M404.5,505.5 L403.3,500.2 L402.1,495.0 L396.3,491.6 L396.3,485.9 M389.2,502.0 L390.6,495.2 L389.8,488.3 M380.0,444.5 L383.6,449.5 L386.3,455.1 L388.1,461.0 M380.0,480.1 L384.1,479.7 M396.4,446.1 L396.2,453.4 M412.0,456.3 L406.0,460.3 L402.1,466.5 M417.1,484.4 L417.6,479.3 L420.1,474.9 M439.8,471.7 L442.2,477.5 L439.6,484.1 L442.8,489.8 L443.6,495.9 M439.8,471.7 L430.4,473.7 M430.4,473.7 L428.8,479.4 L432.8,484.9 L432.2,490.6 L431.8,496.3 M443.6,495.9 L435.5,500.5 M435.5,500.5 L431.8,496.3 M444.8,462.7 L443.7,468.0 L439.8,471.7 M446.2,498.2 L443.6,495.9 M427.4,470.0 L430.4,473.7 M422.1,506.5 L426.7,501.2 L431.8,496.3 M435.5,512.3 L435.4,506.4 L435.5,500.5 M425.4,298.4 L432.7,298.0 L440.0,298.0 L438.7,303.2 L439.0,308.4 L438.7,313.7 L440.6,318.9 L442.0,324.1 L440.1,329.3 L440.0,334.6 L437.4,339.8 L440.0,345.0 L434.9,344.7 L429.8,347.0 L424.8,345.7 L419.7,343.1 L414.6,344.8 L409.5,345.3 L404.4,342.8 L399.3,344.0 L394.3,346.6 L389.2,345.0 L384.1,344.6 L379.0,345.0 M380.0,425.0 L385.0,424.2 L390.1,426.8 L395.1,425.7 L399.9,422.7 L405.0,423.6 L410.0,424.2 L414.9,421.5 L419.9,421.2 L425.1,424.0 L430.1,423.6 L435.0,421.6 L440.1,423.0 L445.1,423.7 L449.9,420.5 L454.9,419.4 L460.0,421.4 L465.0,420.5 L469.9,418.7 L475.0,420.9 L480.0,420.0 L483.6,424.3 L484.6,429.8 L484.6,435.5 L488.1,439.9 L490.6,444.8 L492.6,449.8 L492.4,455.6 L496.3,459.9 L500.0,464.2 L500.0,470.0 L496.7,474.2 L493.3,478.3 L490.7,483.0 L488.6,487.9 L484.8,491.8 L483.6,497.3 L479.4,500.9 L478.1,506.3 L474.5,510.3 L472.2,515.1 L470.0,520.0 L464.6,520.9 L460.1,517.3 L455.0,516.6 L449.5,517.6 L445.1,514.1 L440.0,513.3 L434.5,514.4 L430.1,510.9 L425.0,510.0 L419.5,511.1 L415.0,507.7 L410.0,506.7 L404.5,507.9 L400.0,504.4 L395.0,503.4 L389.5,504.6 L385.0,501.2 L380.0,500.0 L379.8,495.0 L378.2,490.0 L378.9,485.0 L381.5,480.0 L380.7,475.0 L381.8,470.0 L378.5,465.0 L378.7,460.0 L379.3,455.0 L380.2,450.0 L382.5,445.0 L379.8,440.0 L380.0,435.0 L377.9,430.0 L380.0,425.0 M482.0,222.0 L487.0,223.0 L492.0,223.5 L497.0,221.4 L502.0,222.8 L507.0,224.3 L512.0,221.6 L517.0,220.6 L522.0,222.7 L527.0,221.5 L532.0,219.5 L537.0,221.8 L542.0,223.2 L547.0,221.2 L552.0,222.0 L557.0,224.5 L562.0,222.7 L567.0,221.0 L572.0,222.0 L569.4,227.0 L569.7,232.4 L569.6,237.8 M565.7,262.0 L560.5,264.1 L555.2,262.4 L550.0,261.7 L544.8,264.1 L539.5,262.6 L534.3,260.2 L529.1,262.1 L523.8,262.0 L518.6,259.6 L513.4,261.6 L508.2,263.4 L502.9,261.4 L497.7,262.2 L492.5,264.5 L487.2,262.2 L482.0,262.0 L481.5,257.0 L481.1,252.0 L479.9,247.0 L483.2,242.0 L482.7,237.0 L483.7,232.0 L481.7,227.0 L482.0,222.0 M540.0,266.0 L545.0,267.3 L549.9,269.0 L555.1,266.6 L560.1,267.0 L565.0,269.4 L570.2,267.4 L575.3,266.6 L580.2,269.4 L585.3,268.7 L590.4,267.2 L595.3,270.0 L600.3,270.9 L605.5,269.0 L610.3,271.3 L615.2,273.4 L620.4,271.5 L625.4,272.4 L630.3,275.1 L635.5,273.4 L640.6,272.7 L645.4,275.5 L650.5,274.5 L655.7,272.6 L660.6,275.0 L665.6,275.3 L670.8,273.1 L675.8,275.0 L680.7,276.8 L685.9,274.8 L690.8,276.0 L695.7,278.9 L700.8,277.5 L705.9,277.4 L710.7,280.6 L715.8,280.0 L721.0,278.5 L725.8,281.2 L730.9,281.4 L736.1,279.0 L741.0,280.7 L746.0,282.0 L751.1,281.4 M760.0,283.1 L758.1,288.2 L761.5,293.4 L760.7,298.6 L761.5,303.7 L759.0,308.9 L758.3,314.0 L759.8,319.2 L760.1,324.4 L762.5,329.5 L759.6,334.7 L759.7,339.8 L760.0,345.0 L755.0,344.2 L750.0,345.6 L745.0,343.3 L740.0,343.6 L735.0,346.6 L730.0,345.8 L725.0,344.3 L720.0,346.6 L715.0,346.9 L710.0,343.9 L705.0,344.2 L700.0,345.9 L695.0,343.6 L690.0,342.8 L685.0,345.6 L680.0,345.7 L675.0,343.9 L670.0,346.0 L665.0,347.5 L660.0,344.8 L655.0,344.5 L650.0,346.4 L645.0,344.6 L640.0,342.5 L635.0,344.8 L630.0,345.4 L625.0,343.3 L620.0,344.8 L615.0,347.3 L610.0,345.5 L605.0,344.6 L600.0,346.8 L595.0,345.8 L590.0,343.0 L585.0,344.4 L580.0,345.5 L575.0,343.1 L570.0,343.6 L565.0,346.5 L560.0,345.6 L555.0,344.3 L550.0,346.7 L545.0,346.9 L540.0,345.0 L541.3,339.7 L540.1,334.5 L537.9,329.2 L539.7,323.9 L539.6,318.7 L542.5,313.4 L540.1,308.1 L539.9,302.9 L538.1,297.6 L539.3,292.3 L541.3,287.1 L541.0,281.8 L541.2,276.5 L537.9,271.3 L540.0,266.0 M614.8,569.5 L621.3,570.5 L625.6,575.4 L631.0,578.6 L636.5,581.3 L641.5,586.1 L648.3,587.2 L649.0,589.0 M650.1,604.0 L648.3,610.3 L647.6,616.9 L644.3,622.7 L647.3,626.8 L649.9,631.1 M650.6,651.6 L650.2,656.1 L650.5,656.6 M677.5,684.4 L678.4,684.9 M678.7,685.9 L672.9,687.4 L666.7,687.1 L661.2,690.3 L655.0,690.0 L650.5,686.9 L644.5,687.6 L639.5,685.9 L635.2,682.1 L629.3,682.9 L625.0,679.0 L624.3,672.4 L617.4,668.7 L617.0,662.0 L614.1,655.9 L611.0,650.0 L610.6,645.0 L611.7,640.0 L613.3,635.0 L610.4,630.0 L610.7,625.0 L608.9,620.0 L611.0,615.0 L606.3,609.1 L600.0,605.0 L596.6,601.0 L591.6,598.8 L588.0,595.0 L590.6,589.4 L595.5,585.9 L600.0,582.0 L604.7,577.6 L610.4,574.3 L614.8,569.5" fill="none" stroke="#2a1d1a" stroke-width="1.6" stroke-linecap="round" stroke-linejoin="round"/>
<polygon points="478.0,186.3 480.6,191.5 487.4,191.5 490.0,184.6 493.4,184.6 494.3,191.5 499.5,186.3 508.0,181.0 516.6,177.7 516.6,164.0 521.7,158.9 533.8,156.3 537.8,155.4 544.0,150.3 549.1,148.2 556.3,147.2 567.6,149.8 570.7,153.4 569.2,165.7 572.8,171.9 580.0,172.9 586.0,174.0 589.2,158.0 597.4,155.4 605.7,155.4 612.9,159.5 615.0,160.6 631.5,164.9 638.4,164.0 647.0,174.3 647.8,196.6 646.4,200.0 641.0,206.9 641.0,215.1 638.2,219.2 638.2,226.0 631.3,232.9 625.8,237.0 620.4,243.9 623.1,250.8 628.6,260.4 656.0,268.6 658.8,267.2 661.5,252.1 660.1,241.2 664.3,232.9 683.5,229.5 672.5,248.0 673.9,252.1 686.2,259.0 697.2,257.6 706.8,260.4 714.3,264.6 724.6,269.7 726.3,274.9 734.9,269.7 743.5,274.9 745.2,279.2 767.5,283.5 772.6,288.6 783.0,295.5 798.4,295.5 803.5,297.2 822.4,297.2 834.4,293.8 846.4,290.3 851.5,292.0 856.7,300.6 859.2,310.9 851.5,310.9 844.7,312.6 834.4,317.8 831.0,328.0 829.2,336.6 824.7,338.6 819.5,345.4 817.8,352.3 819.5,357.4 817.8,364.3 821.2,371.2 816.1,379.7 807.5,383.2 804.1,389.2 795.5,391.8 792.1,398.6 785.2,405.5 773.2,408.9 762.9,410.6 764.6,417.5 762.9,429.5 754.3,434.6 742.3,432.9 725.2,434.6 724.6,440.0 723.7,447.9 722.7,451.8 718.7,455.7 712.8,459.7 710.9,473.5 703.0,479.4 691.2,475.4 687.2,483.3 683.3,493.1 687.2,499.0 687.2,510.9 679.4,518.7 667.6,528.6 665.6,540.4 663.6,550.2 671.5,558.1 669.5,566.0 655.7,577.8 649.8,589.6 651.8,595.9 649.6,620.4 651.8,638.2 651.5,659.7 659.3,673.5 667.2,683.4 679.0,683.4 682.0,693.3 671.2,711.0 661.3,730.7 655.4,734.7 657.4,738.6 647.5,748.5 639.6,752.4 623.8,750.5 620.0,746.5 616.0,752.4 608.0,754.4 588.3,746.5 580.5,738.6 568.6,734.7 556.8,736.6 545.0,732.7 537.0,726.8 527.2,720.9 513.4,720.9 507.5,715.0 499.6,711.0 489.7,705.0 487.8,693.3 489.7,685.4 499.6,673.5 502.1,667.5 508.8,662.0 510.0,656.4 514.3,652.0 521.0,654.2 526.5,656.4 532.0,653.1 542.0,653.1 548.7,657.6 559.7,652.0 557.5,649.8 553.1,643.2 555.3,638.7 558.6,634.3 553.1,634.3 550.9,627.7 546.4,625.4 537.6,625.4 529.8,624.3 524.3,622.1 515.4,617.7 514.3,612.1 507.7,608.8 502.1,609.9 496.6,607.7 497.7,603.3 496.6,593.3 490.8,591.9 484.2,587.5 484.2,579.8 478.6,577.6 472.0,573.1 466.4,569.8 462.0,565.4 455.4,562.0 448.7,559.8 441.0,564.3 433.2,569.8 427.7,567.6 427.7,558.7 425.5,552.1 418.8,545.4 420.5,536.6 413.3,536.6 406.6,538.8 400.0,542.1 386.3,538.4 374.3,529.8 365.8,521.2 362.3,516.0 360.6,519.5 352.0,519.5 345.2,522.9 334.9,517.8 321.2,507.5 319.5,498.9 326.3,495.5 326.3,483.5 328.0,474.9 326.3,462.9 321.2,457.7 309.2,473.2 297.2,466.3 295.4,452.6 300.6,450.9 305.7,447.4 310.9,438.9 321.2,432.9 331.5,435.4 334.9,440.6 345.2,443.2 352.0,438.0 362.3,436.3 360.6,429.5 355.5,428.6 353.8,414.0 350.3,407.2 352.0,399.5 360.6,397.8 367.5,395.2 367.5,388.3 364.0,379.7 367.5,376.3 369.2,366.0 376.0,360.9 378.6,354.0 377.8,342.0 376.0,331.5 377.7,323.0 379.5,316.0 382.9,312.6 386.3,307.5 391.5,309.2 398.3,312.6 408.6,309.2 420.6,307.5 422.3,302.3 425.8,295.5 437.8,292.0 443.0,288.6 441.2,283.5 439.5,273.2 443.0,271.5 444.6,261.2 448.0,254.3 456.6,251.7 458.4,245.7 467.0,242.3 472.0,235.4 480.6,221.7 478.9,220.6 477.0,208.6" fill="none" stroke="#2a1d1a" stroke-width="1.8" stroke-linejoin="round" />
</svg>
</div>

<!-- zoom controls -->
<div class="ctl" style="top:125px;height:32px;border-radius:4px 4px 0 0"><div style="position:absolute;left:7.3px;top:14px;width:16.8px;height:3px;background:#fff"></div><div style="position:absolute;left:14px;top:8px;width:3.7px;height:15px;background:#fff"></div></div>
<div class="ctl" style="top:157px;height:160px;background:rgba(222,222,222,0.92)"></div>
<div class="ctl" style="top:255px;height:7.5px;background:#8a8a8a;border-radius:4px"></div>
<div class="ctl" style="top:317px;height:32px;border-radius:0 0 4px 4px"><div style="position:absolute;left:10.8px;top:17px;width:9.8px;height:3px;background:#fff"></div></div>
<div class="ctl" style="top:357px;height:32px;border-radius:4px"><svg width="32" height="32" viewBox="0 0 32 32" style="position:absolute;left:0;top:0"><path d="M8.2,15.5 L15.8,9.2 L23.4,15.5 L21.3,15.5 L21.3,21 L17.6,21 L17.6,17.6 L14,17.6 L14,21 L10.3,21 L10.3,15.5 Z" fill="#fff"/><rect x="18.7" y="9.2" width="2.1" height="4" fill="#fff"/></svg></div>
<div class="ctl" style="top:397px;height:32px;border-radius:4px"><svg width="32" height="32" viewBox="0 0 32 32" style="position:absolute;left:0;top:0"><defs><linearGradient id="pg" x1="0" x2="1" y1="0" y2="0"><stop offset="0" stop-color="#ffd54a"/><stop offset="0.6" stop-color="#f6a800"/><stop offset="1" stop-color="#e08a00"/></linearGradient></defs><circle cx="15.2" cy="7.2" r="3" fill="url(#pg)" stroke="#a86400" stroke-width="0.6"/><path d="M11.6,10.6 L19.6,10.6 L20.2,12 L19.4,19.5 L17.6,20 L16.8,27.3 L14,27.3 L12.6,21.6 L11.4,12 Z" fill="url(#pg)" stroke="#a86400" stroke-width="0.7"/></svg></div>

<!-- scale bar -->
<div style="position:absolute;left:59.5px;top:126px;width:79px;height:16.5px;background:rgba(205,205,205,0.55)"></div>
<div style="position:absolute;left:60px;top:128px;width:78px;height:20.6px;border:2px solid #767676;border-top:none;border-bottom-width:2.5px"></div>
<div style="position:absolute;left:60px;top:128.5px;width:78px;text-align:center;font-size:13.5px;line-height:15px;color:#8a8a8a;letter-spacing:-0.2px">20 km</div>
<!-- tabs -->
<div class="tab" style="left:1124px;top:108px;width:23px;height:127px;border-radius:6px 0 0 6px"></div>
<div class="tab" style="left:7px;top:667px;width:22px;height:127px;border-radius:0 6px 6px 0"></div>
<div class="tab" style="left:1125px;top:667px;width:22px;height:127px;border-radius:6px 0 0 6px"></div>

<div class="tabt" style="left:1135.6px;top:171.5px;transform:translate(-50%,-50%) rotate(-90deg) scaleY(0.85);letter-spacing:-1.45px">herramientas</div>
<div class="tabt" style="left:16.7px;top:731.4px;transform:translate(-50%,-50%) rotate(90deg) scaleY(0.9);letter-spacing:-1.6px">leyenda</div>
<div class="tabt" style="left:1137.4px;top:730px;transform:translate(-50%,-50%) rotate(-90deg) scaleY(0.9);letter-spacing:-1.5px">mapa situación</div>
<div id="attr">SITNA <span class="g">- Datos:</span> IDENA <span class="g">-</span> <u>Otros...</u></div>
</body></html>
